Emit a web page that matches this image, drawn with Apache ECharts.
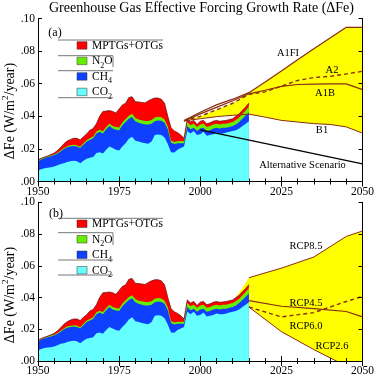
<!DOCTYPE html>
<html>
<head>
<meta charset="utf-8">
<script src="https://cdn.jsdelivr.net/npm/echarts@6/dist/echarts.min.js"></script>
<style>
html, body { margin: 0; padding: 0; background: #fff; }
#main { width: 377px; height: 377px; }
</style>
</head>
<body>
<div id="main"></div>
<script>
// historical growth rate of effective forcing, W/m2/year, one value per year from 1950
var startYear = 1950;
var co2 = [
  .0067, .0075, .0082, .0085, .0087, .0092, .0100, .0108, .0112, .0120,
  .0125, .0128, .0125, .0112, .0128, .0140, .0145, .0150, .0175, .0180,
  .0172, .0195, .0215, .0205, .0195, .0190, .0215, .0235, .0262, .0275,
  .0250, .0245, .0240, .0235, .0232, .0245, .0285, .0288, .0285, .0270,
  .0230, .0180, .0178, .0195, .0205, .0215, .0310, .0295, .0310, .0285,
  .0290, .0305, .0280, .0285, .0290, .0300, .0295, .0295, .0300, .0305,
  .0310, .0315, .0325, .0340, .0355, .0370
];
var ch4 = [
  .0056, .0060, .0061, .0065, .0068, .0070, .0072, .0077, .0088, .0090,
  .0090, .0090, .0090, .0093, .0097, .0105, .0110, .0115, .0120, .0125,
  .0123, .0125, .0125, .0120, .0123, .0125, .0130, .0130, .0123, .0120,
  .0120, .0115, .0115, .0115, .0118, .0110, .0085, .0087, .0087, .0090,
  .0090, .0060, .0052, .0040, .0030, .0020, .0030, .0025, .0020, .0025,
  .0035, .0025, .0030, .0030, .0035, .0030, .0030, .0035, .0030, .0030,
  .0030, .0035, .0040, .0045, .0050, .0055
];
var n2o = [
  .0004, .0004, .0004, .0004, .0005, .0005, .0005, .0006, .0006, .0007,
  .0007, .0008, .0008, .0008, .0009, .0010, .0010, .0011, .0012, .0012,
  .0013, .0014, .0015, .0015, .0016, .0016, .0017, .0018, .0019, .0020,
  .0020, .0020, .0021, .0021, .0021, .0022, .0022, .0022, .0022, .0020,
  .0018, .0012, .0012, .0012, .0013, .0012, .0025, .0025, .0025, .0025,
  .0025, .0025, .0025, .0025, .0025, .0025, .0025, .0025, .0025, .0025,
  .0025, .0028, .0028, .0030, .0030, .0035
];
var otherGases = [
  .0006, .0003, .0003, .0003, .0005, .0008, .0013, .0019, .0026, .0031,
  .0036, .0039, .0042, .0042, .0041, .0037, .0050, .0049, .0048, .0083,
  .0122, .0098, .0080, .0090, .0086, .0114, .0108, .0097, .0111, .0105,
  .0100, .0108, .0109, .0111, .0124, .0128, .0120, .0115, .0111, .0100,
  .0062, .0078, .0068, .0053, .0037, .0018, .0020, .0020, .0020, .0015,
  .0020, .0020, .0020, .0020, .0020, .0020, .0020, .0017, .0020, .0020,
  .0020, .0022, .0022, .0022, .0022, .0022
];

// (a) IPCC SRES scenarios
var sresYears = [1995, 2000, 2005, 2010, 2015, 2020, 2025, 2030, 2035, 2040, 2045, 2050];
var a1fi = [.0374, .0425, .0470, .0505, .0545, .0610, .0678, .0747, .0815, .0880, .0946, .0946];
var a2   = [.0372, .0400, .0440, .0480, .0535, .0550, .0585, .0620, .0638, .0645, .0660, .0676];
var a1b  = [.0372, .0415, .0455, .0495, .0538, .0560, .0584, .0595, .0598, .0599, .0599, .0564];
var b1   = [.0372, .0385, .0398, .0406, .0413, .0395, .0375, .0365, .0355, .0350, .0335, .0297];
var altYears = [2000, 2050];
var altScenario = [.0317, .0108];

// (b) RCP scenarios
var rcpYears = [2015, 2025, 2035, 2045, 2050];
var rcp85 = [.0525, .0585, .0655, .0785, .0819];
var rcp45 = [.0380, .0345, .0330, .0312, .0278];
var rcp60 = [.0340, .0278, .0305, .0375, .0407];
var rcp26 = [.0340, .0185, .0072, -.0032, -.0084];
var rcpBandStart = 2011;

var serif = 'Liberation Serif, Times New Roman, serif';
var brown = '#8a2c12';

function pairs(xs, ys) {
  return ys.map(function (v, i) { return [xs[i], v]; });
}
function addArr(a, b) {
  return a.map(function (v, i) { return v + b[i]; });
}
var histYears = co2.map(function (v, i) { return startYear + i; });

// cumulative layer tops (drawn largest first, each filled down to zero)
var topCo2 = co2;
var topCh4 = addArr(topCo2, ch4);
var topN2o = addArr(topCh4, n2o);
var topAll = addArr(topN2o, otherGases);
var layers = [
  { name: 'MPTGs+OTGs', data: topAll, color: '#ff0000', edge: '#5a1010' },
  { name: 'N2O', data: topN2o, color: '#66ee00' },
  { name: 'CH4', data: topCh4, color: '#1040ff' },
  { name: 'CO2', data: topCo2, color: '#66ffff' }
];

var chart = echarts.init(document.getElementById('main'));

function xAxes(gi) {
  var base = {
    type: 'value', gridIndex: gi, min: 1950, max: 2050, interval: 25, z: 10,
    axisLine: { show: true, lineStyle: { color: '#000', width: 1 } },
    axisTick: { inside: true, length: 5, lineStyle: { color: '#000' } },
    minorTick: { show: true, splitNumber: 5, length: 3, lineStyle: { color: '#000' } },
    splitLine: { show: false },
    axisLabel: { fontFamily: serif, fontSize: 11.5, color: '#000', margin: 4,
      formatter: function (v) { return String(v); } }
  };
  var top = echarts.util.merge({ position: 'top', axisLabel: { show: false } }, base, false);
  return [echarts.util.merge({ position: 'bottom' }, base, false), top];
}
function yAxes(gi) {
  var base = {
    type: 'value', gridIndex: gi, min: 0, max: 0.1, interval: 0.02, z: 10,
    axisLine: { show: true, lineStyle: { color: '#000', width: 1 } },
    axisTick: { inside: true, length: 4, lineStyle: { color: '#000' } },
    splitLine: { show: false },
    axisLabel: {
      fontFamily: serif, fontSize: 11.5, color: '#000', margin: 3,
      formatter: function (v) { return v.toFixed(2).slice(1); }
    }
  };
  var right = echarts.util.merge({ position: 'right', axisLabel: { show: false } }, base, false);
  return [echarts.util.merge({ position: 'left' }, base, false), right];
}

function areaSeries(ax, xs, ys, color, edge) {
  return {
    type: 'line', xAxisIndex: ax, yAxisIndex: ax, symbol: 'none', silent: true,
    data: pairs(xs, ys),
    lineStyle: edge ? { width: 0.7, color: edge } : { width: 0 },
    areaStyle: { color: color, opacity: 1 }
  };
}
function histSeries(ax) {
  return layers.map(function (l) {
    return areaSeries(ax, histYears, l.data, l.color, l.edge);
  });
}
function lineSeries(ax, xs, ys, color, width, dashed) {
  return {
    type: 'line', xAxisIndex: ax, yAxisIndex: ax, symbol: 'none', silent: true,
    data: pairs(xs, ys),
    lineStyle: { color: color, width: width, type: dashed ? [4, 3] : 'solid' }
  };
}
// shaded range: yellow down to zero from the top bound, then white up to the low bound
function bandSeries(ax, xs, lo, hi) {
  return [areaSeries(ax, xs, hi, '#ffff00'), areaSeries(ax, xs, lo, '#ffffff')];
}

var sresTop = sresYears.map(function (y, i) { return y <= 2010 ? a2[i] : a1fi[i]; });
var startTotal = topAll[rcpBandStart - startYear];
var rcpBandYears = [rcpBandStart].concat(rcpYears);
var rcpTop = [startTotal].concat(rcp85);
var rcpLow = [startTotal].concat(rcp26);

var series = [];
series = series.concat(bandSeries(0, sresYears, b1, sresTop));
series = series.concat(histSeries(0));
series.push(lineSeries(0, sresYears, a1fi, brown, 1.2));
series.push(lineSeries(0, sresYears, a1b, brown, 1.2));
series.push(lineSeries(0, sresYears, a2, brown, 1.4, true));
series.push(lineSeries(0, sresYears, b1, brown, 1));
series.push(lineSeries(0, altYears, altScenario, '#000', 1.4));

series = series.concat(bandSeries(2, rcpBandYears, rcpLow, rcpTop));
series = series.concat(histSeries(2));
series.push(lineSeries(2, rcpYears, rcp85, brown, 1));
series.push(lineSeries(2, rcpYears, rcp45, brown, 1.2));
series.push(lineSeries(2, rcpYears, rcp60, brown, 1.4, true));
series.push(lineSeries(2, rcpYears, rcp26, brown, 1));

// legend boxes, scenario labels and axis names
var legendLabels = ['MPTGs+OTGs', 'N{sub|2}O', 'CH{sub|4}', 'CO{sub|2}'];
var legendColors = ['#ff0000', '#66ee00', '#1040ff', '#66ffff'];
var rich = {
  sub: { fontFamily: serif, fontSize: 8, lineHeight: 17, verticalAlign: 'bottom' },
  sup: { fontFamily: serif, fontSize: 9, lineHeight: 17, verticalAlign: 'top' }
};
function txt(x, y, s, size, extra) {
  return echarts.util.merge({
    type: 'text', x: x, y: y, silent: true, z: 100,
    style: { text: s, fontFamily: serif, fontSize: size, fill: '#000', rich: rich,
      align: 'center', verticalAlign: 'middle' }
  }, extra || {}, true);
}
function vline(x1, y1, x2, y2) {
  return { type: 'line', silent: true, z: 100, shape: { x1: x1, y1: y1, x2: x2, y2: y2 },
    style: { stroke: '#777', lineWidth: 1 } };
}
function legendGroup(top, rules) {
  var els = [];
  legendLabels.forEach(function (lab, i) {
    var y = top + i * 15.5;
    els.push({ type: 'rect', silent: true, z: 100, shape: { x: 77, y: y, width: 10, height: 7.5 },
      style: { fill: legendColors[i], stroke: '#333', lineWidth: 0.5 } });
    els.push(txt(92, y + 4, lab, 11.5, { style: { align: 'left' } }));
  });
  rules.forEach(function (r) { els.push(vline(r[0], r[2], r[1], r[2])); });
  return els;
}

var graphics = [];
graphics = graphics.concat(legendGroup(41.7, [[58, 163, 40], [58, 113, 55.7], [58, 113, 70.7], [58, 113, 97.7]]));
graphics.push(vline(113, 56, 113, 67));
graphics = graphics.concat(legendGroup(220, [[58, 163, 218.3], [58, 113, 232.7], [58, 113, 260], [58, 113, 275]]));
graphics.push(vline(113, 233, 113, 245));

graphics.push(txt(201.5, 8, 'Greenhouse Gas Effective Forcing Growth Rate (\u0394Fe)', 14));
graphics.push(txt(55, 33, '(a)', 12));
graphics.push(txt(56, 214, '(b)', 12));
graphics.push(txt(288, 53, 'A1FI', 10.5));
graphics.push(txt(332, 70.7, 'A2', 10.5));
graphics.push(txt(325, 93.3, 'A1B', 10.5));
graphics.push(txt(322, 130, 'B1', 10.5));
graphics.push(txt(302.5, 165.7, 'Alternative Scenario', 10.5));
graphics.push(txt(306, 246, 'RCP8.5', 10.5));
graphics.push(txt(306, 303.3, 'RCP4.5', 10.5));
graphics.push(txt(306, 326, 'RCP6.0', 10.5));
graphics.push(txt(332, 346, 'RCP2.6', 10.5));
graphics.push(txt(10, 111, '\u0394Fe (W/m{sup|2}/year)', 14, { rotation: Math.PI / 2 }));
graphics.push(txt(10, 295, '\u0394Fe (W/m{sup|2}/year)', 14, { rotation: Math.PI / 2 }));

var option = {
  animation: false,
  backgroundColor: '#fff',
  grid: [
    { left: 38, top: 18.5, width: 327, height: 163 },
    { left: 38, top: 202.3, width: 327, height: 162 }
  ],
  xAxis: xAxes(0).concat(xAxes(1)),
  yAxis: yAxes(0).concat(yAxes(1)),
  series: series,
  graphic: graphics
};
chart.setOption(option);
</script>
</body>
</html>
